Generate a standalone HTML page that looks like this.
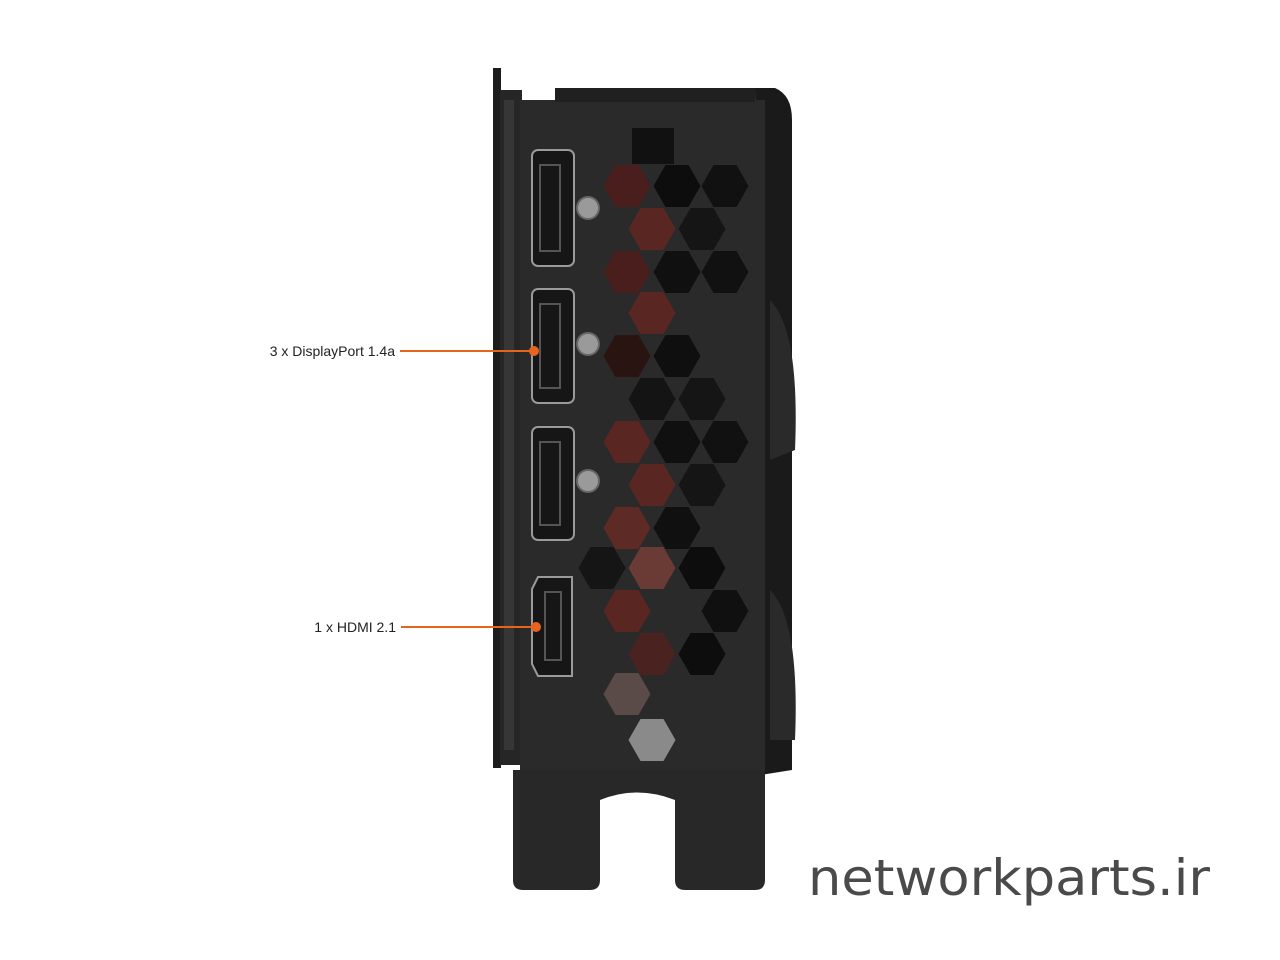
<!DOCTYPE html>
<html><head><meta charset="utf-8"><style>
html,body{margin:0;padding:0;background:#fff;width:1280px;height:960px;overflow:hidden}
</style></head><body>
<svg width="1280" height="960" viewBox="0 0 1280 960" xmlns="http://www.w3.org/2000/svg">
<defs>
<polygon id="hx" points="-23.5,0 -11.5,-21 11.5,-21 23.5,0 11.5,21 -11.5,21"/>
</defs>
<rect x="493" y="68" width="8" height="700" fill="#1c1c1c"/>
<rect x="500" y="90" width="22" height="675" fill="#262626"/>
<rect x="504" y="100" width="10" height="650" fill="#363636"/>
<path d="M755 88 L775 88 Q792 95 792 120 L792 770 L760 775 Z" fill="#1a1a1a"/>
<path d="M770 300 Q800 330 795 450 L770 460 Z" fill="#2a2a2a"/>
<path d="M770 590 Q800 620 795 740 L770 740 Z" fill="#2a2a2a"/>
<path d="M520 100 L765 100 L765 770 L520 770 Z" fill="#2a2a2a"/>
<rect x="555" y="88" width="200" height="14" fill="#202020"/>
<path d="M513 770 L600 770 L600 880 Q600 890 590 890 L523 890 Q513 890 513 880 Z" fill="#282828"/>
<path d="M675 770 L765 770 L765 880 Q765 890 755 890 L685 890 Q675 890 675 880 Z" fill="#282828"/>
<rect x="513" y="770" width="252" height="30" fill="#282828"/>
<path d="M600 800 Q637 785 675 800 L675 820 L600 820 Z" fill="#fff"/>
<rect x="632" y="128" width="42" height="36" fill="#111"/>
<g transform="translate(0,0)">
<use href="#hx" x="627" y="186" fill="#4a1e1c"/><use href="#hx" x="677" y="186" fill="#0d0d0d"/><use href="#hx" x="725" y="186" fill="#111"/>
<use href="#hx" x="652" y="229" fill="#5a2622"/><use href="#hx" x="702" y="229" fill="#151515"/>
<use href="#hx" x="627" y="272" fill="#4a1e1c"/><use href="#hx" x="677" y="272" fill="#101010"/><use href="#hx" x="725" y="272" fill="#111"/>
<use href="#hx" x="652" y="313" fill="#5a2622"/>
<use href="#hx" x="627" y="356" fill="#2a1412"/><use href="#hx" x="677" y="356" fill="#0f0f0f"/>
<use href="#hx" x="652" y="399" fill="#141414"/><use href="#hx" x="702" y="399" fill="#151515"/>
<use href="#hx" x="627" y="442" fill="#5a2622"/><use href="#hx" x="677" y="442" fill="#101010"/><use href="#hx" x="725" y="442" fill="#111"/>
<use href="#hx" x="652" y="485" fill="#5a2622"/><use href="#hx" x="702" y="485" fill="#151515"/>
<use href="#hx" x="627" y="528" fill="#5e2a25"/><use href="#hx" x="677" y="528" fill="#101010"/>
<use href="#hx" x="602" y="568" fill="#151515"/><use href="#hx" x="652" y="568" fill="#6a3a35"/><use href="#hx" x="702" y="568" fill="#0d0d0d"/>
<use href="#hx" x="627" y="611" fill="#5a2622"/><use href="#hx" x="725" y="611" fill="#101010"/>
<use href="#hx" x="652" y="654" fill="#4a2220"/><use href="#hx" x="702" y="654" fill="#0d0d0d"/>
<use href="#hx" x="627" y="694" fill="#5a4a48"/>
<use href="#hx" x="652" y="740" fill="#8a8a8a"/>
</g>
<g fill="#161616" stroke="#9a9a9a" stroke-width="2">
<rect x="532" y="150" width="42" height="116" rx="6"/>
<rect x="532" y="289" width="42" height="114" rx="6"/>
<rect x="532" y="427" width="42" height="113" rx="6"/>
<path d="M538 577 L572 577 L572 676 L538 676 L532 664 L532 589 Z"/>
</g>
<g fill="none" stroke="#555" stroke-width="2">
<rect x="540" y="165" width="20" height="86"/>
<rect x="540" y="304" width="20" height="84"/>
<rect x="540" y="442" width="20" height="83"/>
<rect x="545" y="592" width="16" height="68"/>
</g>
<g fill="#9a9a9a" stroke="#666" stroke-width="2">
<circle cx="588" cy="208" r="11"/><circle cx="588" cy="344" r="11"/><circle cx="588" cy="481" r="11"/>
</g>
<g stroke="#e8641e" stroke-width="2" fill="#e8641e">
<line x1="400" y1="351" x2="534" y2="351"/><circle cx="534" cy="351" r="4"/>
<line x1="401" y1="627" x2="536" y2="627"/><circle cx="536" cy="627" r="4"/>
</g>
<text x="395" y="356" text-anchor="end" font-family="Liberation Sans, sans-serif" font-size="14" fill="#222">3 x DisplayPort 1.4a</text>
<text x="396" y="632" text-anchor="end" font-family="Liberation Sans, sans-serif" font-size="14" fill="#222">1 x HDMI 2.1</text>
<text x="808" y="895" font-family="DejaVu Sans, Liberation Sans, sans-serif" font-size="50" fill="#4a4a4a" textLength="402" lengthAdjust="spacingAndGlyphs">networkparts.ir</text>
</svg>
</body></html>
